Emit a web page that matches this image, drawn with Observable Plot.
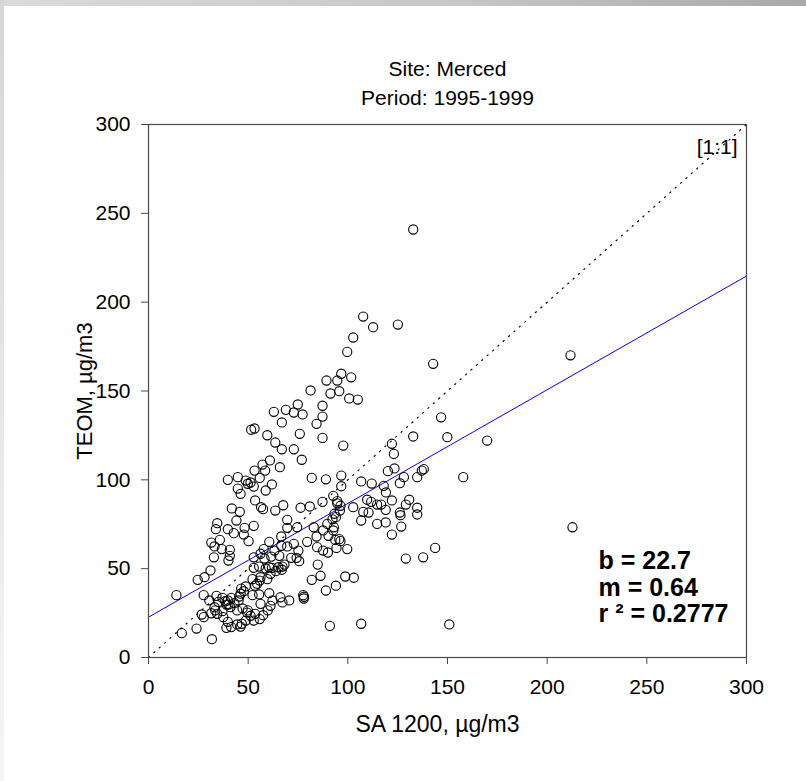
<!DOCTYPE html>
<html><head><meta charset="utf-8">
<script src="https://cdn.jsdelivr.net/npm/d3@7"></script>
<script src="https://cdn.jsdelivr.net/npm/@observablehq/plot@0.6"></script>
<style>
html,body{margin:0;padding:0;background:#fff;overflow:hidden;}
#wrap{position:relative;width:806px;height:781px;}
#topbar{position:absolute;left:0;top:0;width:806px;height:6px;background:linear-gradient(to right,#dadada,#c8c8c8 55%,#a9a9a9);}
#leftbar{position:absolute;left:0;top:0;width:4px;height:781px;background:linear-gradient(to bottom,#d6d6d6,#f6f6f6);}
#chart svg{display:block}
</style></head><body>
<div id="wrap"><div id="chart"></div><div id="topbar"></div><div id="leftbar"></div></div>
<script>
const titleLines = ["Site: Merced", "Period: 1995-1999"];
const xLabel = "SA 1200, µg/m3";
const yLabel = "TEOM, µg/m3";
const xTicks = [0, 50, 100, 150, 200, 250, 300];
const yTicks = [0, 50, 100, 150, 200, 250, 300];
const intercept = 22.7;
const slope = 0.64;
const rSquared = 0.2777;
const statsText = "b = 22.7\nm = 0.64\nr ² = 0.2777";
const oneToOneLabel = "[1:1]";
const lineExtent = [0, 300];

const saX = [132.8,107.7,112.7,125.1,102.7,99.7,96.7,94.7,101.7,95.7,91.3,100.7,105.0,142.8,97.7,146.8,132.8,149.9,169.9,122.1,123.1,96.7,96.7,106.7,112.0,120.1,123.4,128.1,126.1,118.0,134.8,137.1,138.1,157.9,119.1,130.8,109.7,92.7,89.3,81.3,74.9,68.9,87.3,62.9,72.9,77.3,87.3,66.9,84.3,51.5,53.2,59.6,75.9,87.3,63.6,66.9,72.9,76.9,60.9,57.2,53.2,58.5,65.9,44.8,39.8,55.8,81.9,89.0,48.8,44.8,46.2,49.8,52.8,58.8,61.9,51.2,53.5,57.5,56.5,63.6,67.6,76.3,80.9,87.3,94.7,41.8,45.8,44.1,34.5,33.8,39.8,42.8,48.2,52.8,47.8,50.2,31.5,35.8,40.8,36.8,40.8,32.8,60.6,69.6,69.6,74.6,72.9,79.6,82.9,84.3,87.6,90.3,92.3,93.0,89.7,94.0,96.0,95.7,84.6,87.6,90.0,94.3,84.9,66.6,66.6,57.8,52.8,56.2,63.2,65.6,69.6,71.6,74.3,75.6,55.5,52.8,58.8,61.9,65.2,67.2,68.2,63.9,61.2,59.6,56.2,52.2,54.5,48.8,46.5,46.2,47.8,45.2,41.5,39.8,39.1,41.1,43.1,37.1,35.1,33.5,31.5,34.5,37.5,39.8,41.5,39.1,44.5,46.8,48.8,51.2,53.5,55.8,49.8,52.8,56.2,60.6,62.2,66.2,67.2,70.6,77.6,77.9,78.0,81.9,86.3,89.0,94.0,91.0,30.5,26.7,27.7,24.1,16.7,31.8,14.0,27.7,24.7,28.1,31.1,34.1,40.1,58.2,33.1,61.6,75.2,60.5,66.9,55.8,53.5,45.5,38.5,40.1,33.1,37.1,46.2,57.5,59.8,61.2,49.5,47.2,44.5,55.5,52.2,122.1,111.7,114.7,116.7,119.0,107.7,110.4,106.7,114.7,119.0,122.1,126.8,126.4,126.1,129.1,134.8,134.8,102.7,96.3,94.7,93.3,92.7,96.3,99.7,93.7,143.8,137.8,129.1,98.7,103.0,106.7,150.9,211.7,212.7];
const teomY = [240.9,191.9,185.9,187.4,180.1,172.0,159.7,155.9,157.7,149.9,148.6,145.8,145.2,165.3,119.3,135.2,124.4,124.0,122.1,120.3,114.6,102.4,96.4,99.1,97.9,104.9,106.4,101.5,98.1,96.6,101.5,105.2,106.0,101.5,92.9,88.8,88.8,91.0,155.9,150.3,142.4,139.4,141.7,138.3,137.9,136.8,135.6,132.3,131.5,128.2,128.9,125.1,125.9,123.6,121.0,117.2,117.2,111.3,110.9,108.6,105.2,105.2,107.1,101.5,100.0,101.1,101.1,100.3,99.6,95.1,92.1,97.8,96.2,94.0,97.4,98.5,88.4,83.5,84.6,82.7,85.7,84.3,85.0,87.6,86.8,83.9,82.0,77.1,75.6,72.2,72.2,70.0,73.0,74.1,69.2,65.5,64.7,66.2,60.6,61.0,57.2,56.4,65.1,77.5,73.0,73.3,64.0,65.1,73.3,68.1,71.5,68.5,77.8,73.3,75.2,79.0,82.7,66.6,62.1,60.2,59.1,61.7,52.3,68.1,62.9,61.0,56.4,58.4,60.2,57.2,62.5,56.1,56.1,54.2,51.2,50.5,50.1,50.5,50.8,51.2,52.3,48.6,47.1,44.1,45.2,44.1,41.5,40.0,38.8,35.9,37.3,32.1,33.6,32.1,29.8,28.3,30.6,33.6,31.3,26.5,24.9,24.6,22.7,20.1,17.1,16.7,18.6,19.0,20.8,23.5,24.6,21.6,26.5,20.8,30.2,36.2,32.1,33.9,31.0,32.1,35.1,33.2,34.2,43.7,46.0,37.7,40.4,17.8,32.1,24.2,22.7,16.3,13.7,10.3,35.1,35.1,43.7,45.2,49.0,34.7,54.6,55.7,62.5,56.8,60.2,50.8,49.4,43.3,40.4,34.3,31.7,29.8,28.3,26.1,17.4,23.8,26.5,29.1,25.3,27.6,26.5,35.5,35.1,88.4,87.6,86.1,86.1,83.1,82.0,81.6,77.1,75.2,76.0,69.2,73.7,80.1,81.6,86.1,84.3,80.5,84.6,85.4,88.0,80.9,71.5,65.5,61.0,66.2,61.7,56.4,55.7,45.6,44.9,19.0,18.6,170.1,73.3];

const points = saX.map((x, i) => ({x, y: teomY[i]}));

const font = "'Liberation Sans', Arial, sans-serif";
const plot = Plot.plot({
  width: 806, height: 781,
  marginLeft: 148, marginRight: 60, marginTop: 124, marginBottom: 124,
  style: {fontFamily: font, fontSize: "21px", color: "#000", background: "transparent", overflow: "visible"},
  x: {domain: [0, 300], label: null},
  y: {domain: [0, 300], label: null},
  marks: [
    Plot.line(lineExtent, {x: d => d, y: d => d, stroke: "#000", strokeWidth: 1.2, strokeDasharray: "1.2,6"}),
    Plot.line(lineExtent, {x: d => d, y: d => intercept + slope * d, stroke: "#0000ff", strokeWidth: 1}),
    Plot.dot(points, {x: "x", y: "y", r: 4.6, stroke: "#000", strokeWidth: 1.1, fill: "none"}),
    Plot.frame({stroke: "#4a4a4a", strokeWidth: 1.2}),
    Plot.axisX({ticks: xTicks, tickSize: 7, tickPadding: 15, label: null, fontSize: 21, stroke: "#4a4a4a"}),
    Plot.axisY({ticks: yTicks, tickSize: 7, tickPadding: 11, label: null, fontSize: 21, stroke: "#4a4a4a"}),
    Plot.text([oneToOneLabel], {text: d => d, frameAnchor: "top-right", dx: -9, dy: 23, textAnchor: "end", lineAnchor: "middle", fontSize: 21}),
    Plot.text([statsText], {text: d => d, frameAnchor: "bottom-right", dx: -148, dy: -70, textAnchor: "start", lineAnchor: "middle", lineHeight: 1.06, fontSize: 25, fontWeight: "bold"}),
    Plot.text([titleLines[0]], {text: d => d, frameAnchor: "top", dy: -55, textAnchor: "middle", lineAnchor: "middle", fontSize: 21}),
    Plot.text([titleLines[1]], {text: d => d, frameAnchor: "top", dy: -26, textAnchor: "middle", lineAnchor: "middle", fontSize: 21}),
    Plot.text([xLabel], {text: d => d, frameAnchor: "bottom", dx: -10, dy: 67, textAnchor: "middle", lineAnchor: "middle", fontSize: 23}),
    Plot.text([yLabel], {text: d => d, frameAnchor: "left", dx: -64, rotate: -90, textAnchor: "middle", lineAnchor: "middle", fontSize: 22})
  ]
});
document.getElementById("chart").appendChild(plot);
</script>
</body></html>
